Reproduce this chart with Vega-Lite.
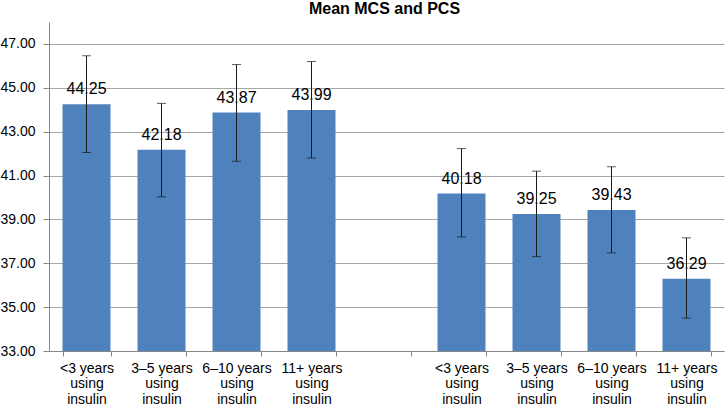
{
  "$schema": "https://vega.github.io/schema/vega-lite/v6.json",
  "width": 675,
  "height": 329,
  "autosize": {"type": "none"},
  "padding": {"left": 49, "top": 22, "right": 2, "bottom": 55},
  "background": "white",
  "title": {
    "text": "Mean MCS and PCS",
    "font": "Liberation Sans",
    "fontSize": 16,
    "fontWeight": "bold",
    "color": "#000000",
    "anchor": "middle",
    "offset": 5,
    "dx": -2
  },
  "config": {
    "view": {"stroke": null},
    "font": "Liberation Sans"
  },
  "data": {
    "values": [
      {"key": "MCS:<3 years|using|insulin", "mean": 44.25, "lo": 42.05, "hi": 46.46},
      {"key": "MCS:3–5 years|using|insulin", "mean": 42.18, "lo": 40.03, "hi": 44.29},
      {"key": "MCS:6–10 years|using|insulin", "mean": 43.87, "lo": 41.65, "hi": 46.06},
      {"key": "MCS:11+ years|using|insulin", "mean": 43.99, "lo": 41.8, "hi": 46.2},
      {"key": "PCS:<3 years|using|insulin", "mean": 40.18, "lo": 38.2, "hi": 42.23},
      {"key": "PCS:3–5 years|using|insulin", "mean": 39.25, "lo": 37.3, "hi": 41.2},
      {"key": "PCS:6–10 years|using|insulin", "mean": 39.43, "lo": 37.47, "hi": 41.4},
      {"key": "PCS:11+ years|using|insulin", "mean": 36.29, "lo": 34.5, "hi": 38.16}
    ]
  },
  "encoding": {
    "x": {
      "field": "key",
      "type": "nominal",
      "sort": null,
      "scale": {
        "domain": [
          "MCS:<3 years|using|insulin",
          "MCS:3–5 years|using|insulin",
          "MCS:6–10 years|using|insulin",
          "MCS:11+ years|using|insulin",
          "gap",
          "PCS:<3 years|using|insulin",
          "PCS:3–5 years|using|insulin",
          "PCS:6–10 years|using|insulin",
          "PCS:11+ years|using|insulin"
        ],
        "paddingInner": 0.36,
        "paddingOuter": 0.18
      },
      "axis": {
        "title": null,
        "labelAngle": 0,
        "labelExpr": "isString(datum.value) && length(datum.value) > 4 ? split(substring(datum.value, 4), '|') : ''",
        "labelFont": "Liberation Sans",
        "labelFontSize": 14,
        "labelColor": "#000000",
        "labelLineHeight": 15.5,
        "labelPadding": 5,
        "tickBand": "extent",
        "tickSize": 5,
        "tickColor": "#868686",
        "domainColor": "#868686",
        "grid": false
      }
    },
    "y": {
      "field": "mean",
      "type": "quantitative",
      "scale": {"domain": [33, 48], "zero": false, "nice": false},
      "axis": {
        "title": null,
        "values": [33, 35, 37, 39, 41, 43, 45, 47],
        "format": ".2f",
        "labelFont": "Liberation Sans",
        "labelFontSize": 14,
        "labelColor": "#000000",
        "labelPadding": 8,
        "tickSize": 6,
        "tickColor": "#868686",
        "domainColor": "#868686",
        "grid": true,
        "gridColor": "#A6A6A6"
      }
    }
  },
  "layer": [
    {
      "mark": {"type": "bar", "color": "#4F81BD"},
      "encoding": {"y2": {"datum": 33}}
    },
    {
      "mark": {"type": "text", "baseline": "alphabetic", "dy": -10, "fontSize": 16, "font": "Liberation Sans", "color": "#000000"},
      "encoding": {
        "text": {"field": "mean", "type": "quantitative", "format": ".2f"}
      }
    },
    {
      "mark": {"type": "rule", "color": "#1a1a1a", "strokeWidth": 1},
      "encoding": {
        "y": {"field": "lo", "type": "quantitative"},
        "y2": {"field": "hi"}
      }
    },
    {
      "mark": {"type": "tick", "color": "#1a1a1a", "size": 9, "thickness": 1},
      "encoding": {
        "y": {"field": "lo", "type": "quantitative"}
      }
    },
    {
      "mark": {"type": "tick", "color": "#1a1a1a", "size": 9, "thickness": 1},
      "encoding": {
        "y": {"field": "hi", "type": "quantitative"}
      }
    }
  ]
}
